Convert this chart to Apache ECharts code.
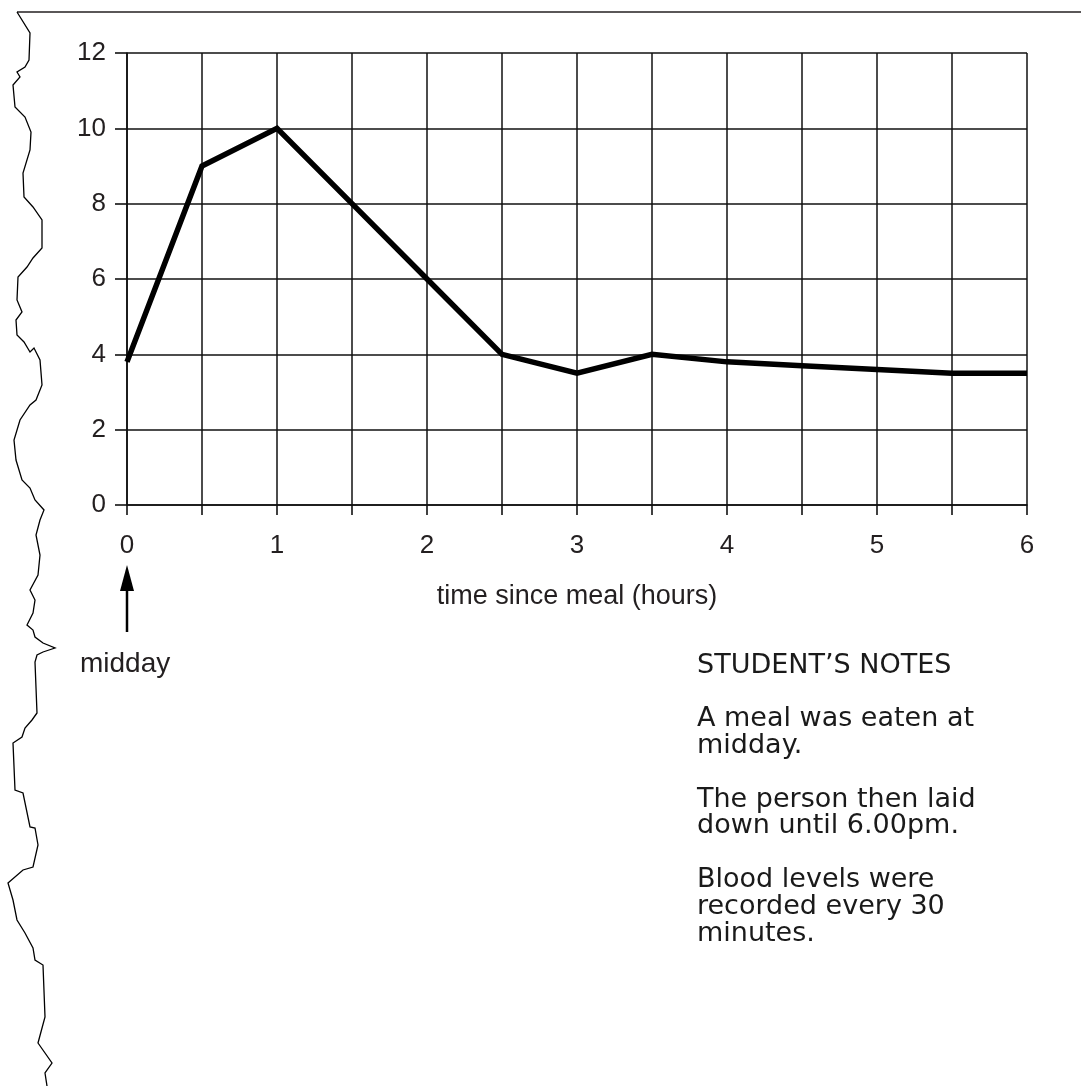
<!DOCTYPE html>
<html><head><meta charset="utf-8">
<script src="https://cdn.jsdelivr.net/npm/echarts@6/dist/echarts.min.js"></script>
<style>html,body{margin:0;padding:0;background:#fff}#c{width:1081px;height:1086px}</style>
</head><body><div id="c"></div>
<script>
const hours = [0, 0.5, 1, 1.5, 2, 2.5, 3, 3.5, 4, 4.5, 5, 5.5, 6];
const levels = [3.8, 9, 10, 8, 6, 4, 3.5, 4, 3.8, 3.7, 3.6, 3.5, 3.5];
const xTickLabels = ['0', '1', '2', '3', '4', '5', '6'];
const yTickLabels = ['0', '2', '4', '6', '8', '10', '12'];
const notes = ["STUDENT\u2019S NOTES", "", "A meal was eaten at", "midday.", "", "The person then laid", "down until 6.00pm.", "", "Blood levels were", "recorded every 30", "minutes."];

const chart = echarts.init(document.getElementById('c'));
const font = '"Liberation Sans", Arial, Helvetica, sans-serif';
const torn = [[17,12],[30,33],[29,60],[25,67],[17,72],[20,77],[13,85],[15,107],[25,117],[31,132],[30,150],[23,173],[24,197],[33,207],[42,220],[42,248],[33,258],[27,267],[18,277],[17,300],[22,312],[16,320],[17,335],[24,342],[30,352],[34,348],[40,360],[42,385],[36,400],[30,405],[20,420],[14,440],[16,460],[22,480],[30,488],[35,500],[44,510],[40,520],[36,535],[40,555],[38,575],[30,590],[35,600],[33,613],[27,625],[33,630],[35,637],[43,643],[55,648],[43,652],[37,655],[35,662],[37,713],[32,720],[25,728],[22,737],[13,743],[15,790],[23,793],[30,827],[35,828],[38,845],[33,867],[23,870],[8,883],[13,900],[17,920],[25,933],[33,948],[35,960],[43,965],[45,1017],[38,1043],[52,1063],[45,1073],[47,1086]];
chart.setOption({
  animation: false,
  backgroundColor: '#fff',
  grid: { left: 127, right: 54, top: 53, bottom: 581, containLabel: false },
  xAxis: {
    type: 'value', min: 0, max: 6, interval: 0.5,
    name: 'time since meal (hours)', nameLocation: 'middle', nameGap: 78,
    nameTextStyle: { fontFamily: font, fontSize: 27, color: '#231f20' },
    axisLine: { show: true, onZero: false, lineStyle: { color: '#111', width: 1.6 } },
    axisTick: { show: true, length: 10, lineStyle: { color: '#111', width: 1.6 } },
    axisLabel: { margin: 28, fontFamily: font, fontSize: 26, color: '#231f20',
      formatter: v => (Number.isInteger(v) ? xTickLabels[v] : '') },
    splitLine: { show: true, lineStyle: { color: '#111', width: 1.5 } }
  },
  yAxis: {
    type: 'value', min: 0, max: 12, interval: 2,
    axisLine: { show: true, onZero: false, lineStyle: { color: '#111', width: 1.6 } },
    axisTick: { show: true, length: 12, lineStyle: { color: '#111', width: 1.6 } },
    axisLabel: { margin: 21, fontFamily: font, fontSize: 26, color: '#231f20',
      formatter: v => yTickLabels[v / 2] },
    splitLine: { show: true, lineStyle: { color: '#111', width: 1.5 } }
  },
  series: [{
    type: 'line', data: hours.map((h, i) => [h, levels[i]]),
    symbol: 'none', lineStyle: { color: '#000', width: 5.5, join: 'miter' }
  }],
  graphic: [
    { type: 'line', shape: { x1: 17, y1: 12, x2: 1081, y2: 12 }, style: { stroke: '#231f20', lineWidth: 1.5 } },
    { type: 'polyline', shape: { points: torn }, style: { stroke: '#000', lineWidth: 1.3, fill: null } },
    { type: 'line', shape: { x1: 127, y1: 584, x2: 127, y2: 632 }, style: { stroke: '#000', lineWidth: 2.5 } },
    { type: 'polygon', shape: { points: [[127, 565], [120, 591], [134, 591]] }, style: { fill: '#000' } },
    { type: 'text', left: 80, top: 650, style: { text: 'midday', fontFamily: font, fontSize: 28, fill: '#231f20' } },
    { type: 'text', left: 697, top: 652, style: { text: notes.join('\n'), fontFamily: '"Comic Sans MS", "DejaVu Sans", sans-serif', fontSize: 27, lineHeight: 26.8, fill: '#1a1a1a' } }
  ]
});
</script></body></html>
